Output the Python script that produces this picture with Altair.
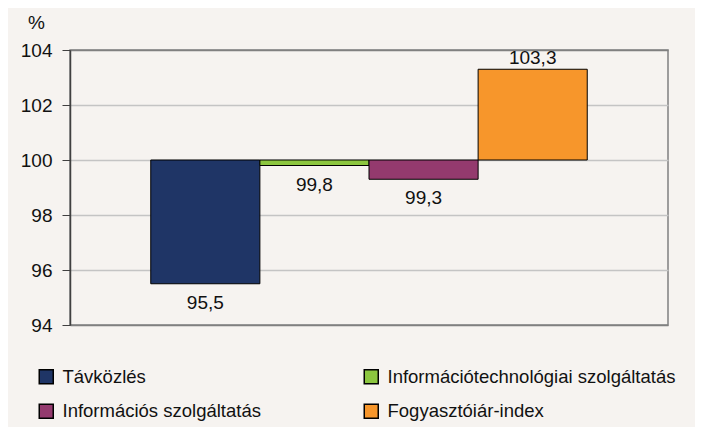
import altair as alt
import pandas as pd

categories = ["Távközlés", "Információtechnológiai szolgáltatás", "Információs szolgáltatás", "Fogyasztóiár-index"]
values = [95.5, 99.8, 99.3, 103.3]
colors = ["#1F3566", "#8CC63F", "#943A6E", "#F7962B"]
base_value = 100
y_ticks = [94, 96, 98, 100, 102, 104]

# legend fills column by column: list entries in that order
legend_order = [categories[0], categories[2], categories[1], categories[3]]
legend_colors = [colors[0], colors[2], colors[1], colors[3]]

df = pd.DataFrame({
    "cat": categories,
    "value": values,
    "base": [base_value] * len(values),
    "label": [f"{v:.1f}".replace(".", ",") for v in values],
    "dir": ["down" if v < base_value else "up" for v in values],
})

FONT = "Liberation Sans"
BG = "#F6F3F0"
TXT = "#111111"

x = alt.X("cat:N", sort=categories, axis=None,
          scale=alt.Scale(paddingInner=0, paddingOuter=0.74))
y_scale = alt.Scale(domain=[94, 104], nice=False, zero=False)

bars = alt.Chart(df).mark_bar(stroke="black", strokeWidth=1).encode(
    x=x,
    y=alt.Y("value:Q", scale=y_scale,
            axis=alt.Axis(values=y_ticks, title="%", titleAngle=0, titleX=-34, titleY=-22,
                          titleAlign="center", titleBaseline="alphabetic",
                          titleFont=FONT, titleFontSize=19, titleFontWeight="normal",
                          titleColor=TXT,
                          labelFont=FONT, labelFontSize=19, labelColor=TXT,
                          labelPadding=10, tickSize=8, tickColor="#404040",
                          domainColor="#404040", domainWidth=1.5,
                          gridColor={"condition": {"test": "datum.value == 104 || datum.value == 94",
                                                   "value": "#808080"},
                                     "value": "#C4C4C4"},
                          gridWidth=1.5)),
    y2="base:Q",
    color=alt.Color("cat:N",
                    scale=alt.Scale(domain=legend_order, range=legend_colors),
                    legend=alt.Legend(title=None, orient="none", legendX=-33, legendY=317,
                                      columns=2, columnPadding=100, rowPadding=14,
                                      symbolType="square", symbolSize=196,
                                      symbolStrokeColor="black", symbolStrokeWidth=1.5,
                                      symbolOpacity=1,
                                      labelFont=FONT, labelFontSize=18.5, labelColor=TXT,
                                      labelLimit=0, labelOffset=7, padding=0)),
)

labels_down = alt.Chart(df).transform_filter("datum.dir == 'down'").mark_text(
    font=FONT, fontSize=19, color=TXT, baseline="alphabetic", dy=25
).encode(x=x, y=alt.Y("value:Q", scale=y_scale), text="label:N")

labels_up = alt.Chart(df).transform_filter("datum.dir == 'up'").mark_text(
    font=FONT, fontSize=19, color=TXT, baseline="alphabetic", dy=-5
).encode(x=x, y=alt.Y("value:Q", scale=y_scale), text="label:N")

chart = alt.layer(bars, labels_down, labels_up).properties(
    width=598, height=275,
    background=BG,
    padding={"left": 62, "top": 42, "right": 27, "bottom": 102},
    autosize=alt.AutoSizeParams(type="none"),
).configure_view(
    stroke="#808080", strokeWidth=1.5, fill=BG
)

chart.save("out.html", embed_options={"renderer": "svg", "actions": False})
